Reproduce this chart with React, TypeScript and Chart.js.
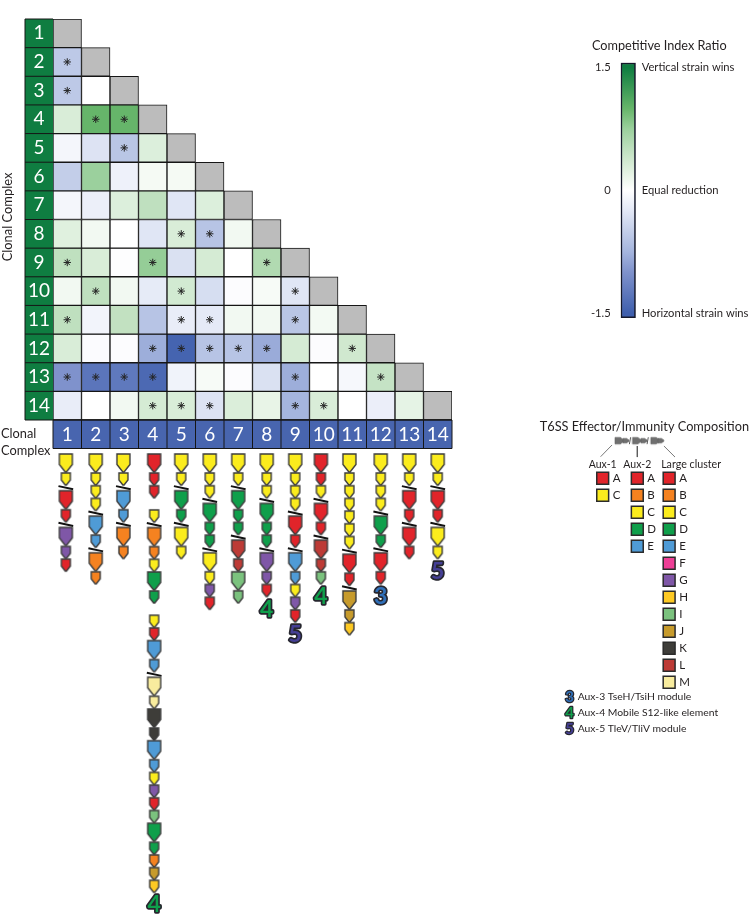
import React, { useEffect, useRef } from "react";
import { Chart, registerables } from "chart.js";

Chart.register(...registerables);

const FONT = "Lato, 'Open Sans', sans-serif";
const TEXT = "#231f20";

// ---- competitive index matrix (lower triangle, column 1 first) ----
const clonalComplexes = ["1", "2", "3", "4", "5", "6", "7", "8", "9", "10", "11", "12", "13", "14"];
const ciRow1: number[] = [];
const ciRow2 = [-0.55];
const ciRow3 = [-0.55, 0];
const ciRow4 = [0.3, 1.0, 1.0];
const ciRow5 = [-0.1, -0.3, -0.58, 0.27];
const ciRow6 = [-0.5, 0.75, -0.15, 0.08, 0.08];
const ciRow7 = [-0.1, -0.17, 0.27, 0.5, -0.27, 0.27];
const ciRow8 = [0.24, 0.1, 0, -0.27, 0.3, -0.6, 0.1];
const ciRow9 = [0.5, 0.3, -0.02, 0.78, -0.32, 0.33, 0, 0.6];
const ciRow10 = [0.1, 0.5, 0.1, -0.22, 0.35, -0.35, -0.03, 0.06, -0.27];
const ciRow11 = [0.5, -0.12, 0.48, -0.6, -0.2, -0.23, 0.1, 0.1, -0.58, 0.09];
const ciRow12 = [0.3, -0.04, -0.03, -0.8, -1.45, -0.6, -0.6, -0.82, 0.33, -0.03, 0.37];
const ciRow13 = [-1.0, -1.28, -1.25, -1.4, -0.13, 0.06, -0.03, -0.32, -0.8, 0, -0.08, 0.45];
const ciRow14 = [-0.2, 0, 0.1, 0.33, 0.3, -0.3, 0.28, 0.18, -0.75, 0.3, 0, -0.18, 0.2];
const ciRows = [ciRow1, ciRow2, ciRow3, ciRow4, ciRow5, ciRow6, ciRow7, ciRow8, ciRow9, ciRow10, ciRow11, ciRow12, ciRow13, ciRow14];

// columns of each row that carry a significance asterisk
const sigRows: number[][] = [
  [], [1], [1], [2, 3], [3], [], [], [5, 6], [1, 4, 8], [2, 5, 9], [1, 5, 6, 9],
  [4, 5, 6, 7, 8, 11], [1, 2, 3, 4, 9, 12], [4, 5, 6, 9, 10],
];

const colorStops: [number, string][] = [
  [-1.5, "#3f5fad"], [-1.0, "#7f92cc"], [-0.75, "#a5b5de"], [-0.5, "#c3cee9"], [-0.25, "#e3e8f6"],
  [0, "#ffffff"], [0.25, "#dff0de"], [0.5, "#bfe0bf"], [0.75, "#9bd09d"], [1.0, "#66b56a"], [1.5, "#0f7d41"],
];

const hex = (h: string) => [1, 3, 5].map((i) => parseInt(h.slice(i, i + 2), 16));
function ciColor(v: number) {
  for (let i = 1; i < colorStops.length; i++) {
    const [v0, c0] = colorStops[i - 1];
    const [v1, c1] = colorStops[i];
    if (v <= v1) {
      const t = Math.max(0, (v - v0) / (v1 - v0));
      const a = hex(c0), b = hex(c1);
      return `rgb(${a.map((x, k) => Math.round(x + (b[k] - x) * t)).join(",")})`;
    }
  }
  return colorStops[colorStops.length - 1][1];
}

// ---- T6SS composition: upper case = effector (large), lower case = immunity (small), / = break, space = gap ----
const geneColors: Record<string, string> = {
  A: "#e1242a", B: "#f58220", C: "#fbec1d", D: "#0f9f4b", E: "#4f9bd6", F: "#ee3e96", G: "#7f57a7",
  H: "#fdc923", I: "#7bc27e", J: "#c79b2c", K: "#3e3d39", L: "#bd3b36", M: "#f8ec9e",
};
const clusterColumns = [
  "Cc/Aa/Gga", "Cccc/Ee/Bb", "Cc/Ee/Bb", "Aaa c/BbcDd caEe/MmKkEecgaiDdbjh", "Cc/Dd/Cc", "Ccc/Ddd/Ccga", "Cc/Ddd/LlIi",
  "Ccc/Ddd/Gga", "Cccc/Aa/Eecga", "Aac/Aa/Lli", "Ccccccc/Aa/Jjh", "Cccc/Dd/Aa", "Cc/Aa/Aa", "Cc/Aa/Cc",
];
const clusterColumnPositions = [0.95, 2, 2.97, 4.05, 5, 6, 7, 8, 9, 9.9, 10.9, 12, 13, 14];
const auxMarks: [number, string][] = [[4, "4"], [8, "4"], [9, "5"], [10, "4"], [12, "3"], [14, "5"]];
const auxColors: Record<string, string> = { "3": "#2f6fb8", "4": "#0f9f4b", "5": "#453f95" };

// ---- legend ----
const legendAux1 = ["A", "C"];
const legendAux2 = ["A", "B", "C", "D", "E"];
const legendLarge = ["A", "B", "C", "D", "E", "F", "G", "H", "I", "J", "K", "L", "M"];
const legendColumns = [1, 2, 2.92];
const legendHeaders = ["Aux-1", "Aux-2", "Large cluster"];
const auxModules = [
  ["3", "Aux-3 TseH/TsiH module"],
  ["4", "Aux-4 Mobile S12-like element"],
  ["5", "Aux-5 TleV/TliV module"],
];
const schematicGenes: [number, string][] = [[1.486, "L"], [1.673, "s"], [1.991, "L"], [2.194, "s"], [2.52, "L"], [2.68, "s"]];
const schematicBreaks = [1.789, 2.3];
const schematicLeads = [
  [[1.27, -0.96], [0.94, -0.27]],
  [[2, -0.9], [2, -0.25]],
  [[2.77, -0.9], [3.09, -0.25]],
];

// ---- colour bar ----
const colorbarTicks = [-1.5, 0, 1.5];
const colorbarNotes: Record<string, string> = { "1.5": "Vertical strain wins", "0": "Equal reduction", "-1.5": "Horizontal strain wins" };
const colorbarEnds: [number, number] = [-1.56, 1.56];

const LARGE = { w: 13, h: 18, step: 19 };
const SMALL = { w: 9, h: 12, step: 12.7 };

function glyph(color: string, large: boolean, scale = 1, stroke = "#3c3c3c", lw = 1.4) {
  const g = large ? LARGE : SMALL;
  const w = g.w * scale, h = g.h * scale;
  const c = document.createElement("canvas");
  c.width = Math.ceil(w + 4);
  c.height = Math.ceil(h + 4);
  const ctx = c.getContext("2d")!;
  const x0 = (c.width - w) / 2, y0 = (c.height - h) / 2;
  ctx.beginPath();
  ctx.moveTo(x0, y0);
  ctx.lineTo(x0 + w, y0);
  ctx.lineTo(x0 + w, y0 + h * 0.58);
  ctx.lineTo(x0 + w / 2 + 0.6, y0 + h);
  ctx.lineTo(x0 + w / 2 - 0.6, y0 + h);
  ctx.lineTo(x0, y0 + h * 0.58);
  ctx.closePath();
  ctx.fillStyle = color;
  ctx.fill();
  ctx.strokeStyle = stroke;
  ctx.lineWidth = lw;
  ctx.stroke();
  return c;
}

function layoutColumn(seq: string) {
  let y = 454;
  const genes: { y: number; ch: string }[] = [];
  const breaks: number[] = [];
  for (const ch of seq) {
    if (ch === " ") y += 11.5;
    else if (ch === "/") { breaks.push(y + 2); y += 5; }
    else {
      const large = ch === ch.toUpperCase();
      genes.push({ y: y + (large ? LARGE.h : SMALL.h) / 2, ch });
      y += large ? LARGE.step : SMALL.step;
    }
  }
  return { genes, breaks, end: y };
}

function outlined(ctx: CanvasRenderingContext2D, s: string, x: number, y: number, size: number) {
  ctx.save();
  ctx.font = `bold ${size}px ${FONT}`;
  ctx.textAlign = "center";
  ctx.textBaseline = "middle";
  ctx.lineJoin = "round";
  ctx.lineWidth = size > 18 ? 3.4 : 2.4;
  ctx.strokeStyle = "#26262e";
  ctx.strokeText(s, x, y);
  ctx.fillStyle = auxColors[s];
  ctx.fillText(s, x, y);
  ctx.restore();
}

function label(ctx: CanvasRenderingContext2D, s: string, x: number, y: number, size: number, align: CanvasTextAlign = "left") {
  ctx.font = `${size}px ${FONT}`;
  ctx.fillStyle = TEXT;
  ctx.textAlign = align;
  ctx.textBaseline = "middle";
  ctx.fillText(s, x, y);
}

function fixedWidth(w: number) {
  return (s: any) => { s.width = w; };
}
function fixedHeight(h: number) {
  return (s: any) => { s.height = h; };
}

function matrixConfig(): any {
  const rowSets = ciRows.map((vals, i) => {
    const r = i + 1;
    return {
      label: `Row ${r}`,
      data: [...vals, 0].map(() => [r - 0.5, r + 0.5]),
      backgroundColor: [...vals.map(ciColor), "#bcbcbc"],
      borderColor: "#161616",
      borderWidth: 1,
      borderSkipped: false,
      barPercentage: 1,
      categoryPercentage: 1,
      grouped: false,
      order: 2,
    };
  });
  const stars = {
    type: "line",
    label: "significant",
    showLine: false,
    order: 1,
    data: sigRows.flatMap((cols, i) => cols.map((c) => ({ x: String(c), y: i + 1 }))),
    pointStyle: "star",
    pointRadius: 3.7,
    pointBorderColor: "#242424",
    pointBorderWidth: 1,
    pointBackgroundColor: "#222",
  };
  return {
    type: "bar",
    data: { labels: clonalComplexes, datasets: [...rowSets, stars] },
    options: {
      animation: false,
      responsive: false,
      layout: { autoPadding: false, padding: { left: 25, top: 19, right: 8, bottom: 11.5 } },
      plugins: { legend: { display: false }, tooltip: { enabled: false } },
      scales: {
        x: {
          type: "category",
          position: "bottom",
          backgroundColor: "#4865af",
          afterFit: fixedHeight(28.5),
          grid: { display: false, drawTicks: false },
          border: { display: false },
          ticks: { color: "#fff", padding: 3, maxRotation: 0, autoSkip: false, font: { family: FONT, size: 19 } },
        },
        y: {
          type: "linear",
          position: "left",
          reverse: true,
          min: 0.5,
          max: 14.5,
          backgroundColor: "#0f7d41",
          afterFit: fixedWidth(28),
          afterBuildTicks: (s: any) => { s.ticks = clonalComplexes.map((c) => ({ value: +c })); },
          grid: { display: false, drawTicks: false },
          border: { display: false },
          ticks: { color: "#fff", crossAlign: "center", autoSkip: false, padding: 3, callback: (v: any) => String(v), font: { family: FONT, size: 19 } },
        },
      },
    },
    plugins: [{
      id: "bands",
      afterDraw(chart: any) {
        const { ctx, scales: { x, y } } = chart;
        ctx.save();
        ctx.strokeStyle = "#161616";
        ctx.lineWidth = 1;
        ctx.beginPath();
        for (let r = 0; r <= 14; r++) {
          const py = y.getPixelForValue(r + 0.5);
          ctx.moveTo(y.left, py);
          ctx.lineTo(y.right, py);
        }
        ctx.moveTo(y.left, y.top); ctx.lineTo(y.left, y.bottom);
        for (let c = 0; c <= 14; c++) {
          const px = x.left + (x.width * c) / 14;
          ctx.moveTo(px, x.top);
          ctx.lineTo(px, x.bottom);
        }
        ctx.moveTo(x.left, x.bottom); ctx.lineTo(x.right, x.bottom);
        ctx.stroke();
        ctx.lineWidth = 1.6;
        ctx.beginPath();
        ctx.moveTo(x.left, x.top); ctx.lineTo(x.right, x.top);
        ctx.stroke();
        label(ctx, "Clonal", 1, 434, 12.8);
        label(ctx, "Complex", 1, 451, 12.8);
        ctx.translate(8, 217);
        ctx.rotate(-Math.PI / 2);
        label(ctx, "Clonal Complex", 0, 0, 12.9, "center");
        ctx.restore();
      },
    }],
  };
}

function clusterConfig(): any {
  const columns = clusterColumns.map(layoutColumn);
  const genes = columns.map((col, i) => ({
    label: `Complex ${i + 1}`,
    data: col.genes.map((g) => ({ x: clusterColumnPositions[i], y: g.y })),
    pointStyle: col.genes.map((g) => glyph(geneColors[g.ch.toUpperCase()], g.ch === g.ch.toUpperCase())),
    pointRadius: 6,
    clip: false,
  }));
  const breaks = {
    label: "breaks",
    data: columns.flatMap((col, i) => col.breaks.map((y) => ({ x: clusterColumnPositions[i], y }))),
    pointStyle: "line",
    pointRadius: 7.5,
    pointRotation: 12,
    pointBorderColor: "#111",
    pointBorderWidth: 2,
  };
  return {
    type: "scatter",
    data: { datasets: [...genes, breaks] },
    options: {
      animation: false,
      responsive: false,
      layout: { autoPadding: false, padding: { left: 53, right: 8 } },
      plugins: { legend: { display: false }, tooltip: { enabled: false } },
      scales: {
        x: { type: "linear", min: 0.5, max: 14.5, display: false },
        y: { type: "linear", min: 450, max: 919, reverse: true, display: false },
      },
    },
    plugins: [{
      id: "auxMarks",
      afterDatasetsDraw(chart: any) {
        const { ctx, scales: { x, y } } = chart;
        auxMarks.forEach(([col, s]) => {
          outlined(ctx, s, x.getPixelForValue(clusterColumnPositions[col - 1]), y.getPixelForValue(columns[col - 1].end + 12), 23);
        });
      },
    }],
  };
}

function legendConfig(): any {
  const swatchColumns = [legendAux1, legendAux2, legendLarge];
  const swatches = swatchColumns.map((letters, i) => ({
    label: legendHeaders[i],
    data: letters.map((_, k) => ({ x: legendColumns[i], y: k + 1 })),
    pointStyle: "rect",
    pointRadius: 8.4,
    pointBackgroundColor: letters.map((l) => geneColors[l]),
    pointBorderColor: "#2b2b2b",
    pointBorderWidth: 1.5,
  }));
  const leads = schematicLeads.map((pts, i) => ({
    label: `lead ${i}`,
    type: "line",
    data: pts.map(([x, y]) => ({ x, y })),
    showLine: true,
    pointRadius: 0,
    borderColor: "#555",
    borderWidth: 0.8,
  }));
  const schematic = {
    label: "schematic",
    data: schematicGenes.map(([x]) => ({ x, y: -1.21 })),
    pointStyle: schematicGenes.map(([, k]) => glyph("#6f6f6f", k === "L", 0.5, "#5a5a5a", 0.6)),
    pointRotation: -90,
    pointRadius: 4,
  };
  const schematicSlashes = {
    label: "schematic breaks",
    data: schematicBreaks.map((x) => ({ x, y: -1.21 })),
    pointStyle: "line",
    pointRadius: 3.5,
    pointRotation: 100,
    pointBorderColor: "#444",
    pointBorderWidth: 0.9,
  };
  return {
    type: "scatter",
    data: { datasets: [...swatches, ...leads, schematic, schematicSlashes] },
    options: {
      animation: false,
      responsive: false,
      layout: { autoPadding: false, padding: 0 },
      plugins: { legend: { display: false }, tooltip: { enabled: false } },
      scales: {
        x: { type: "linear", min: 1 - 72.7 / 34.6, max: 1 + 147.3 / 34.6, display: false },
        y: { type: "linear", min: 1 - 58.3 / 17, max: 1 + 271.7 / 17, reverse: true, display: false },
      },
    },
    plugins: [{
      id: "legendText",
      afterDatasetsDraw(chart: any) {
        const { ctx, scales: { x, y } } = chart;
        ctx.save();
        label(ctx, "T6SS Effector/Immunity Composition", chart.width - 1, y.getPixelForValue(-2.0), 12.75, "right");
        legendHeaders.forEach((h, i) => {
          const px = x.getPixelForValue(legendColumns[i]);
          if (i < 2) label(ctx, h, px, y.getPixelForValue(0.218), 10.5, "center");
          else label(ctx, h, px - 8, y.getPixelForValue(0.218), 10.7, "left");
        });
        swatchColumns.forEach((letters, i) => {
          letters.forEach((l, k) => label(ctx, l, x.getPixelForValue(legendColumns[i]) + 10, y.getPixelForValue(k + 1), 11.5));
        });
        auxModules.forEach(([n, text], k) => {
          const py = y.getPixelForValue(13.86 + k * 0.94);
          outlined(ctx, n, x.getPixelForValue(legendColumns[0]) - 33, py, 15);
          label(ctx, text, x.getPixelForValue(legendColumns[0]) - 25, py, 10.35);
        });
        ctx.restore();
      },
    }],
  };
}

function colorbarConfig(): any {
  return {
    type: "bar",
    data: {
      labels: ["ratio"],
      datasets: [{
        label: "Competitive Index Ratio",
        data: [colorbarEnds],
        barPercentage: 1,
        categoryPercentage: 1,
        borderColor: "#15182a",
        borderWidth: 1.8,
        borderSkipped: false,
        backgroundColor: (c: any) => {
          const { chartArea, scales } = c.chart;
          if (!chartArea) return "#fff";
          const g = c.chart.ctx.createLinearGradient(0, chartArea.top, 0, chartArea.bottom);
          const toOffset = (v: number) => Math.min(1, Math.max(0, (scales.y.getPixelForValue(v) - chartArea.top) / (chartArea.bottom - chartArea.top)));
          colorStops.forEach(([v, col]) => g.addColorStop(toOffset(v), col));
          g.addColorStop(0, "#0f7d41");
          g.addColorStop(1, "#3f5fad");
          return g;
        },
      }],
    },
    options: {
      animation: false,
      responsive: false,
      layout: { autoPadding: false, padding: { top: 22.7, bottom: 22 } },
      plugins: { legend: { display: false }, tooltip: { enabled: false } },
      scales: {
        x: { display: false },
        y: {
          type: "linear", position: "left", min: colorbarEnds[0], max: colorbarEnds[1],
          afterFit: fixedWidth(60.7),
          afterBuildTicks: (s: any) => { s.ticks = colorbarTicks.map((value) => ({ value })); },
          grid: { display: false, drawTicks: false }, border: { display: false },
          ticks: { color: TEXT, padding: 10, autoSkip: false, callback: (v: any) => String(v), font: { family: FONT, size: 11.2 } },
        },
        notes: {
          type: "linear", position: "right", min: colorbarEnds[0], max: colorbarEnds[1],
          afterFit: fixedWidth(114.3),
          afterBuildTicks: (s: any) => { s.ticks = colorbarTicks.map((value) => ({ value })); },
          grid: { display: false, drawTicks: false }, border: { display: false },
          ticks: { color: TEXT, padding: 6, autoSkip: false, callback: (v: any) => colorbarNotes[String(v)], font: { family: FONT, size: 11.2 } },
        },
      },
    },
    plugins: [{
      id: "title",
      afterDraw(chart: any) {
        chart.ctx.save();
        label(chart.ctx, "Competitive Index Ratio", 32, 6, 12.7);
        chart.ctx.restore();
      },
    }],
  };
}

function Panel({ left, top, width, height, make }: { left: number; top: number; width: number; height: number; make: () => any }) {
  const ref = useRef<HTMLCanvasElement>(null);
  useEffect(() => {
    const chart = new Chart(ref.current!, make());
    return () => chart.destroy();
  }, []);
  return <canvas ref={ref} width={width} height={height} style={{ position: "absolute", left, top, width, height, display: "block" }} />;
}

export default function App() {
  return (
    <div style={{ position: "absolute", left: 0, top: 0, width: 750, height: 919, overflow: "hidden", background: "#fff" }}>
      <Panel left={0} top={450} width={460} height={469} make={clusterConfig} />
      <Panel left={0} top={0} width={460} height={460} make={matrixConfig} />
      <Panel left={560} top={40} width={190} height={300} make={colorbarConfig} />
      <Panel left={530} top={420} width={220} height={330} make={legendConfig} />
    </div>
  );
}
